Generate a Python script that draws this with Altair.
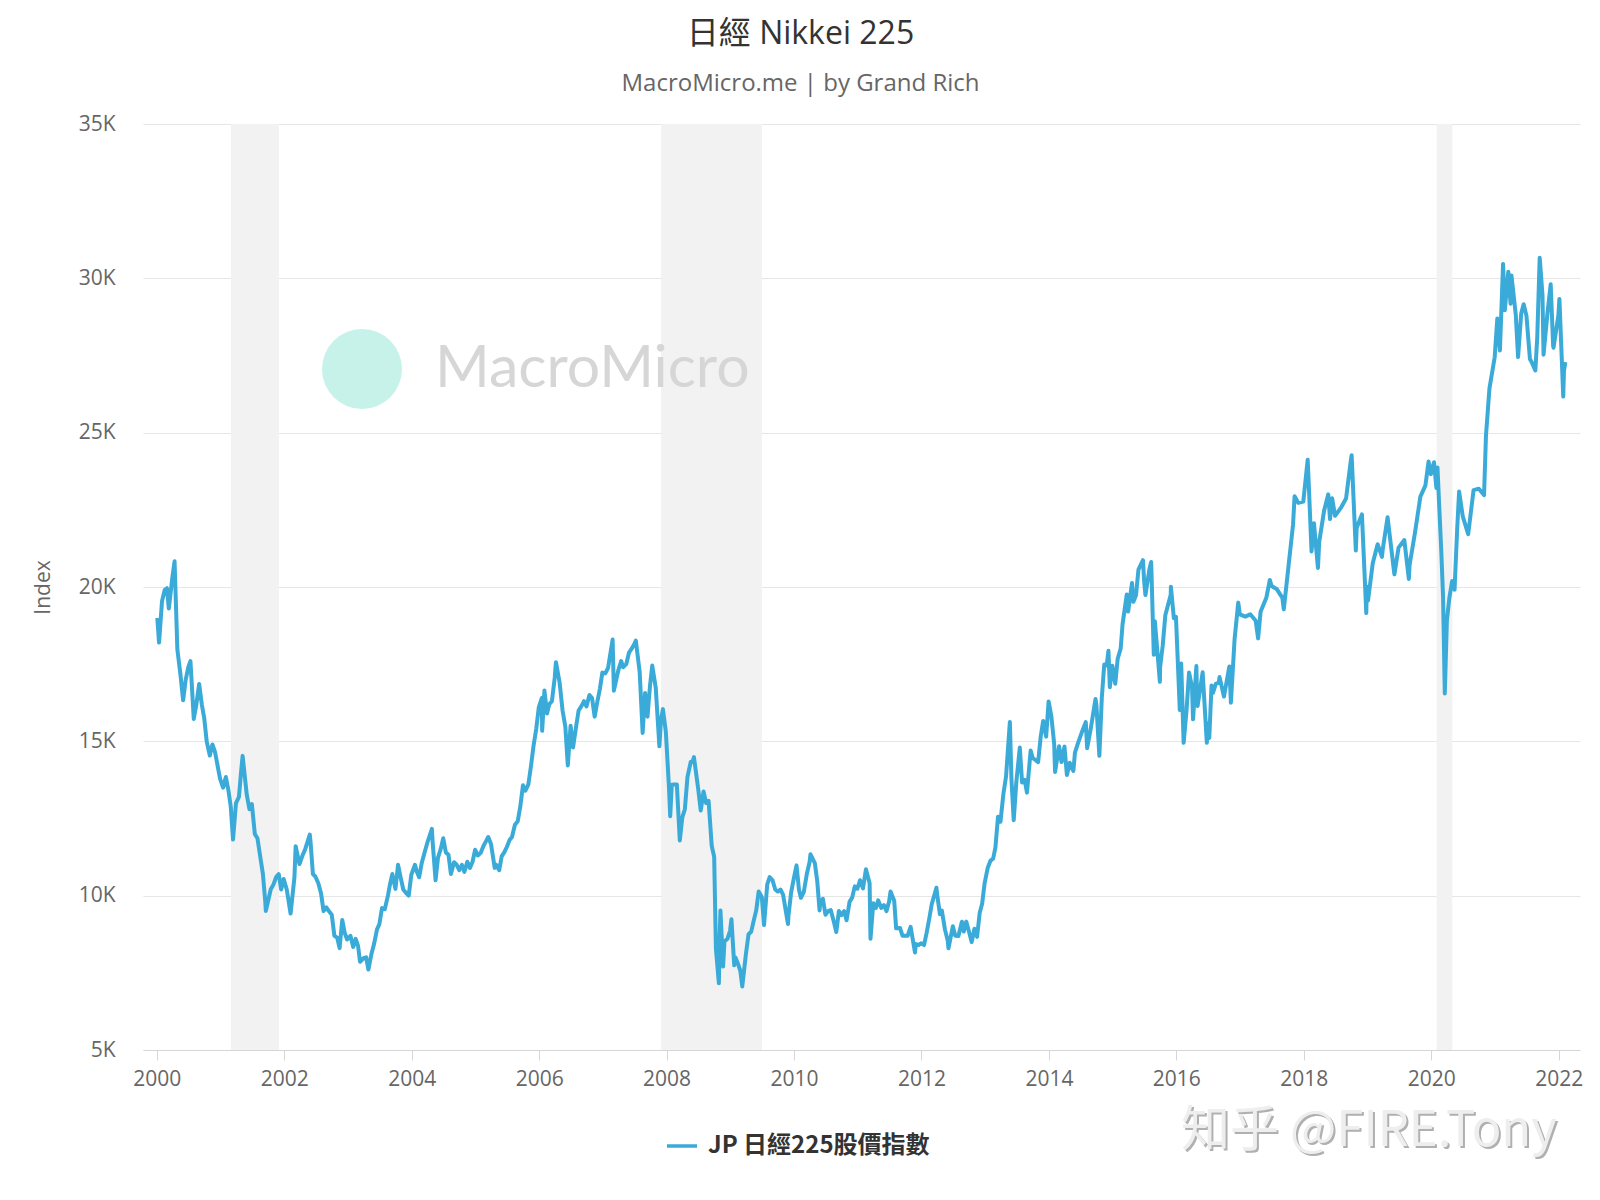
import altair as alt
import pandas as pd

dates = [
 "2000-01-04","2000-01-14","2000-01-31","2000-02-15","2000-02-28","2000-03-10","2000-03-31","2000-04-12","2000-04-28","2000-05-15","2000-05-31","2000-06-15","2000-06-30","2000-07-12","2000-07-31","2000-08-15","2000-08-31","2000-09-15","2000-09-29","2000-10-13","2000-10-31","2000-11-15","2000-11-30","2000-12-15","2000-12-29",
 "2001-01-15","2001-01-31","2001-02-15","2001-02-28","2001-03-13","2001-03-30","2001-04-16","2001-04-27","2001-05-07","2001-05-31","2001-06-15","2001-06-29","2001-07-16","2001-07-31","2001-08-15","2001-08-31","2001-09-14","2001-09-17","2001-09-28","2001-10-15","2001-10-31","2001-11-15","2001-11-30","2001-12-14","2001-12-28",
 "2002-01-15","2002-02-06","2002-02-28","2002-03-07","2002-03-29","2002-04-15","2002-04-30","2002-05-27","2002-05-31","2002-06-14","2002-06-28","2002-07-15","2002-07-31","2002-08-14","2002-08-30","2002-09-13","2002-09-30","2002-10-15","2002-10-31","2002-11-14","2002-11-29","2002-12-13","2002-12-27",
 "2003-01-15","2003-01-31","2003-02-14","2003-02-28","2003-03-11","2003-03-31","2003-04-15","2003-04-28","2003-05-15","2003-05-30","2003-06-16","2003-06-30","2003-07-15","2003-07-31","2003-08-18","2003-08-29","2003-09-12","2003-09-30","2003-10-15","2003-10-31","2003-11-14","2003-11-28","2003-12-15","2003-12-30",
 "2004-01-20","2004-01-30","2004-02-13","2004-02-27","2004-03-15","2004-03-31","2004-04-26","2004-04-30","2004-05-17","2004-05-31","2004-06-15","2004-06-30","2004-07-15","2004-07-30","2004-08-13","2004-08-31","2004-09-15","2004-09-30","2004-10-15","2004-10-29","2004-11-15","2004-11-30","2004-12-15","2004-12-30",
 "2005-01-14","2005-01-31","2005-02-15","2005-02-28","2005-03-15","2005-03-31","2005-04-21","2005-04-28","2005-05-17","2005-05-31","2005-06-15","2005-06-30","2005-07-15","2005-07-29","2005-08-15","2005-08-31","2005-09-15","2005-09-30","2005-10-14","2005-10-31","2005-11-15","2005-11-30","2005-12-15","2005-12-30",
 "2006-01-16","2006-01-18","2006-01-31","2006-02-15","2006-02-28","2006-03-15","2006-03-31","2006-04-07","2006-04-28","2006-05-15","2006-05-31","2006-06-14","2006-06-30","2006-07-14","2006-07-31","2006-08-15","2006-08-31","2006-09-15","2006-09-29","2006-10-16","2006-10-31","2006-11-15","2006-11-30","2006-12-15","2006-12-29",
 "2007-01-15","2007-01-31","2007-02-26","2007-03-05","2007-03-30","2007-04-16","2007-04-27","2007-05-15","2007-05-31","2007-06-15","2007-06-29","2007-07-09","2007-07-31","2007-08-17","2007-08-31","2007-09-14","2007-09-28","2007-10-11","2007-10-31","2007-11-21","2007-11-30","2007-12-11","2007-12-28",
 "2008-01-15","2008-01-22","2008-01-31","2008-02-15","2008-02-29","2008-03-17","2008-03-31","2008-04-15","2008-04-30","2008-05-19","2008-05-30","2008-06-06","2008-06-30","2008-07-15","2008-07-31","2008-08-15","2008-08-29","2008-09-16","2008-09-30","2008-10-10","2008-10-27","2008-10-31","2008-11-05","2008-11-20","2008-11-28","2008-12-15","2008-12-30",
 "2009-01-07","2009-01-23","2009-01-30","2009-02-13","2009-02-27","2009-03-10","2009-03-31","2009-04-15","2009-04-30","2009-05-15","2009-05-29","2009-06-12","2009-06-30","2009-07-13","2009-07-31","2009-08-14","2009-08-31","2009-09-15","2009-09-30","2009-10-15","2009-10-30","2009-11-27","2009-11-30","2009-12-15","2009-12-30",
 "2010-01-15","2010-01-29","2010-02-09","2010-02-26","2010-03-15","2010-03-31","2010-04-05","2010-04-30","2010-05-14","2010-05-27","2010-05-31","2010-06-15","2010-06-30","2010-07-15","2010-07-30","2010-08-15","2010-08-31","2010-09-15","2010-09-30","2010-10-15","2010-10-29","2010-11-15","2010-11-30","2010-12-15","2010-12-30",
 "2011-01-14","2011-01-31","2011-02-17","2011-02-28","2011-03-10","2011-03-15","2011-03-31","2011-04-15","2011-04-28","2011-05-16","2011-05-31","2011-06-15","2011-06-30","2011-07-08","2011-07-29","2011-08-09","2011-08-31","2011-09-15","2011-09-30","2011-10-14","2011-10-31","2011-11-25","2011-11-30","2011-12-15","2011-12-30",
 "2012-01-16","2012-01-31","2012-02-15","2012-02-29","2012-03-27","2012-03-30","2012-04-16","2012-04-27","2012-05-15","2012-05-31","2012-06-04","2012-06-29","2012-07-13","2012-07-31","2012-08-20","2012-08-31","2012-09-14","2012-09-28","2012-10-15","2012-10-31","2012-11-15","2012-11-30","2012-12-14","2012-12-28",
 "2013-01-15","2013-01-31","2013-02-15","2013-02-28","2013-03-15","2013-03-29","2013-04-15","2013-04-30","2013-05-22","2013-05-31","2013-06-13","2013-06-28","2013-07-18","2013-07-31","2013-08-15","2013-08-28","2013-09-18","2013-09-30","2013-10-15","2013-10-31","2013-11-15","2013-11-29","2013-12-16","2013-12-30",
 "2014-01-15","2014-01-31","2014-02-05","2014-02-28","2014-03-14","2014-03-31","2014-04-14","2014-04-30","2014-05-21","2014-05-30","2014-06-16","2014-06-30","2014-07-15","2014-07-31","2014-08-08","2014-08-29","2014-09-25","2014-09-30","2014-10-17","2014-10-31","2014-11-14","2014-11-28","2014-12-08","2014-12-16","2014-12-30",
 "2015-01-16","2015-01-30","2015-02-16","2015-02-27","2015-03-23","2015-03-31","2015-04-22","2015-04-30","2015-05-15","2015-05-29","2015-06-24","2015-06-30","2015-07-08","2015-07-31","2015-08-10","2015-08-25","2015-08-31","2015-09-29","2015-09-30","2015-10-15","2015-10-30","2015-11-30","2015-12-01","2015-12-18","2015-12-30",
 "2016-01-21","2016-01-29","2016-02-12","2016-02-29","2016-03-14","2016-03-31","2016-04-06","2016-04-25","2016-04-28","2016-05-02","2016-05-31","2016-06-24","2016-06-30","2016-07-08","2016-07-21","2016-07-29","2016-08-15","2016-08-31","2016-09-05","2016-09-30","2016-10-31","2016-11-09","2016-11-30","2016-12-21","2016-12-30",
 "2017-01-31","2017-02-28","2017-03-31","2017-04-14","2017-04-28","2017-05-31","2017-06-20","2017-06-30","2017-07-31","2017-08-31","2017-09-08","2017-09-29","2017-10-31","2017-11-09","2017-11-30","2017-12-29",
 "2018-01-23","2018-01-31","2018-02-14","2018-02-28","2018-03-23","2018-03-30","2018-04-27","2018-05-21","2018-05-31","2018-06-12","2018-06-29","2018-07-31","2018-08-31","2018-09-28","2018-10-02","2018-10-26","2018-10-31","2018-11-30","2018-12-25","2018-12-28",
 "2019-01-04","2019-01-31","2019-02-28","2019-03-25","2019-03-29","2019-04-26","2019-05-31","2019-06-04","2019-06-28","2019-07-31","2019-08-26","2019-08-30","2019-09-30","2019-10-31","2019-11-29","2019-12-17","2019-12-30",
 "2020-01-17","2020-01-31","2020-02-06","2020-02-28","2020-03-09","2020-03-19","2020-03-31","2020-04-14","2020-04-30","2020-05-14","2020-05-29","2020-06-09","2020-06-30","2020-07-31","2020-08-31","2020-09-30","2020-10-30","2020-11-10","2020-11-30","2020-12-30",
 "2021-01-14","2021-01-29","2021-02-16","2021-02-26","2021-03-18","2021-03-31","2021-04-05","2021-04-30","2021-05-13","2021-05-31","2021-06-14","2021-06-30","2021-07-20","2021-07-30","2021-08-20","2021-08-31","2021-09-14","2021-09-30","2021-10-06","2021-10-29","2021-11-16","2021-11-30","2021-12-02","2021-12-30",
 "2022-01-05","2022-01-27","2022-01-31","2022-02-08",
]
values = [
 19000,18200,19540,19900,19960,19300,20337,20833,17973,17200,16332,17000,17411,17600,15727,16200,16861,16200,15747,15000,14539,14900,14649,14200,13785,
 13500,13843,13400,12883,11820,12999,13200,13934,14529,13262,12800,12969,12000,11860,11300,10713,9800,9504,9774,10200,10366,10600,10697,10200,10542,
 10200,9420,10587,11600,11024,11300,11492,11979,11763,10700,10621,10400,10059,9500,9619,9500,9383,8700,8640,8300,9215,8800,8579,
 8700,8340,8600,8363,7860,7973,8000,7607,8100,8425,8900,9083,9600,9563,10000,10344,10700,10219,11000,10560,10200,10101,10000,10677,
 11000,10784,10600,11041,11400,11715,12163,11762,10500,11236,11500,11859,11400,11326,10700,11082,11000,10824,11000,10771,11100,10899,11100,11489,
 11300,11388,11600,11741,11900,11668,10900,11009,10825,11277,11400,11584,11800,11900,12300,12414,12900,13574,13400,13607,14200,14872,15400,16111,
 16400,15341,16650,15900,16205,16300,17060,17563,16906,16000,15467,14219,15505,14800,15457,16000,16141,16300,16128,16500,16399,15800,16274,16700,17226,
 17200,17383,18300,16642,17288,17600,17400,17500,17876,18000,18138,18262,17248,15273,16569,15800,16786,17458,16737,14838,15680,16044,15308,
 13500,12573,13592,13600,13603,11787,12526,12800,13850,14338,14338,14489,13481,12760,13377,13000,13073,11609,11260,8276,7162,8577,9521,7703,8512,8600,8860,
 9239,7745,7994,7800,7568,7055,8110,8750,8828,9200,9523,10135,9958,9050,10357,10600,10493,10200,10133,10200,10035,9081,9346,10100,10546,
 10982,10198,9932,10126,10700,11090,11339,11057,10460,9522,9769,9900,9383,9500,9537,9200,8824,9500,9369,9500,9202,9800,9937,10300,10229,
 10500,10237,10857,10624,10400,8605,9755,9600,9849,9600,9694,9500,9816,10137,9833,8944,8955,8700,8700,8700,8988,8160,8434,8400,8455,
 8400,8802,9260,9723,10255,10083,9400,9520,8900,8542,8295,9007,8700,8695,9156,8839,9159,8870,8500,8928,8664,9446,9737,10395,
 10900,11138,11200,11559,12560,12397,13300,13860,15627,13774,12445,13677,14800,13668,13750,13338,14700,14455,14400,14327,15165,15662,15153,16291,
 15800,14914,14008,14841,14327,14828,13910,14304,14042,14632,14933,15162,15395,15621,14778,15425,16374,16174,14532,16414,17490,17460,17935,16755,17451,
 16864,17674,18004,18798,19754,19207,20133,19520,19733,20563,20868,20236,19737,20585,20808,17806,18890,16930,17388,18097,19083,19747,20012,18986,19034,
 16017,17518,14952,16027,17233,16759,15713,17439,16666,16147,17235,14952,15576,15107,16811,16569,16870,16887,17081,16450,17425,16251,18308,19494,19114,
 19041,19119,18909,18336,19197,19651,20230,20033,19925,19646,19275,20356,22012,22937,22725,22765,
 24124,23098,21154,22068,20617,21454,22467,23002,22202,22878,22305,22554,22865,24120,24271,21184,21920,22351,19155,20015,
 19561,20773,21385,20977,21206,22259,20601,20409,21276,21522,20261,20704,21756,22927,23294,24066,23657,
 24041,23205,23873,21143,19698,16553,18917,19638,20194,19914,21878,23091,22288,21710,23140,23185,22977,24905,26434,27444,
 28698,27663,30467,28966,30216,29179,30089,28813,27448,28860,29161,28792,27388,27284,27013,28090,30670,29453,27528,28893,29808,27822,27753,28792,
 29332,26170,27002,27284,
]
series_name = "JP 日經225股價指數"

rec_start = ["2001-03-01", "2007-12-01", "2020-02-01"]
rec_end = ["2001-12-01", "2009-07-01", "2020-05-01"]

y_ticks = [5000, 10000, 15000, 20000, 25000, 30000, 35000]
x_tick_years = list(range(2000, 2023, 2))

df = pd.DataFrame({"date": dates, "value": values, "series": series_name})
bands = pd.DataFrame({"start": rec_start, "end": rec_end})

LATIN = "Open Sans, Noto Sans CJK TC, sans-serif"
CJK = "Noto Sans CJK TC, sans-serif"

xscale = alt.Scale(domain=["1999-10-14", "2022-05-03"])
xaxis = alt.Axis(
    values=[alt.DateTime(year=y, month=1, date=1) for y in x_tick_years],
    format="%Y", title=None, grid=False,
    labelFont=LATIN, labelFontSize=21, labelColor="#666666", labelPadding=8,
    tickColor="#d6d6d6", tickSize=10, domainColor="#d6d6d6", labelFlush=False,
)
yaxis = alt.Axis(
    values=y_ticks, labelExpr="datum.value / 1000 + 'K'",
    title="Index", titleFont=LATIN, titleFontSize=21, titleFontWeight="normal",
    titleColor="#666666", titlePadding=25,
    labelFont=LATIN, labelFontSize=21, labelColor="#666666", labelPadding=28,
    grid=True, gridColor="#e6e6e6", domain=False, ticks=False,
)

band_layer = alt.Chart(bands).mark_rect(color="#f2f2f2").encode(
    x=alt.X("start:T", scale=xscale, axis=xaxis),
    x2="end:T",
)

logo = alt.Chart(pd.DataFrame({"k": [0]})).mark_point(
    shape="circle", filled=True, color="#c6f2e9", opacity=1, size=6400
).encode(x=alt.value(219), y=alt.value(245))

wm_text = alt.Chart(pd.DataFrame({"t": ["MacroMicro"]})).mark_text(
    font="Lato, Open Sans, sans-serif", fontSize=59, color="#d6d6d6",
    align="left", baseline="middle"
).encode(x=alt.value(292), y=alt.value(245), text="t:N")

line = alt.Chart(df).mark_line(strokeWidth=4, strokeJoin="round").encode(
    x=alt.X("date:T", scale=xscale, axis=xaxis),
    y=alt.Y("value:Q", scale=alt.Scale(domain=[5000, 35000], nice=False), axis=yaxis),
    color=alt.Color("series:N", scale=alt.Scale(range=["#3aaad8"]), legend=alt.Legend(
        title=None, orient="none", legendX=522, legendY=1005,
        symbolType="stroke", symbolStrokeWidth=3.5, symbolSize=900,
        labelFont=CJK, labelFontSize=24, labelFontWeight="bold", labelColor="#333333",
        labelLimit=0, labelOffset=9,
    )),
)

zh_shadow = alt.Chart(pd.DataFrame({"t": ["知乎 @FIRE.Tony"]})).mark_text(
    font="Noto Sans CJK SC, sans-serif", fontSize=49, color="#b0b0b0",
    align="left", baseline="middle"
).encode(x=alt.value(1040), y=alt.value(1009), text="t:N")
zh_front = alt.Chart(pd.DataFrame({"t": ["知乎 @FIRE.Tony"]})).mark_text(
    font="Noto Sans CJK SC, sans-serif", fontSize=49, color="#eeeeee",
    align="left", baseline="middle"
).encode(x=alt.value(1038), y=alt.value(1007), text="t:N")

chart = alt.layer(band_layer, logo, wm_text, line, zh_shadow, zh_front).properties(
    width=1437, height=926,
    autosize=alt.AutoSizeParams(type="none"),
    padding={"left": 135, "top": 116, "right": 12, "bottom": 142},
    title=alt.TitleParams(
        text="日經 Nikkei 225", subtitle="MacroMicro.me | by Grand Rich",
        font=LATIN, fontSize=32, fontWeight="normal", color="#333333",
        subtitleFont=LATIN, subtitleFontSize=24, subtitleColor="#666666",
        anchor="middle", frame="group", dx=-61, offset=16, subtitlePadding=21,
    ),
).configure_view(stroke=None)

chart.save("out.html", embed_options={"renderer": "svg", "actions": False})
